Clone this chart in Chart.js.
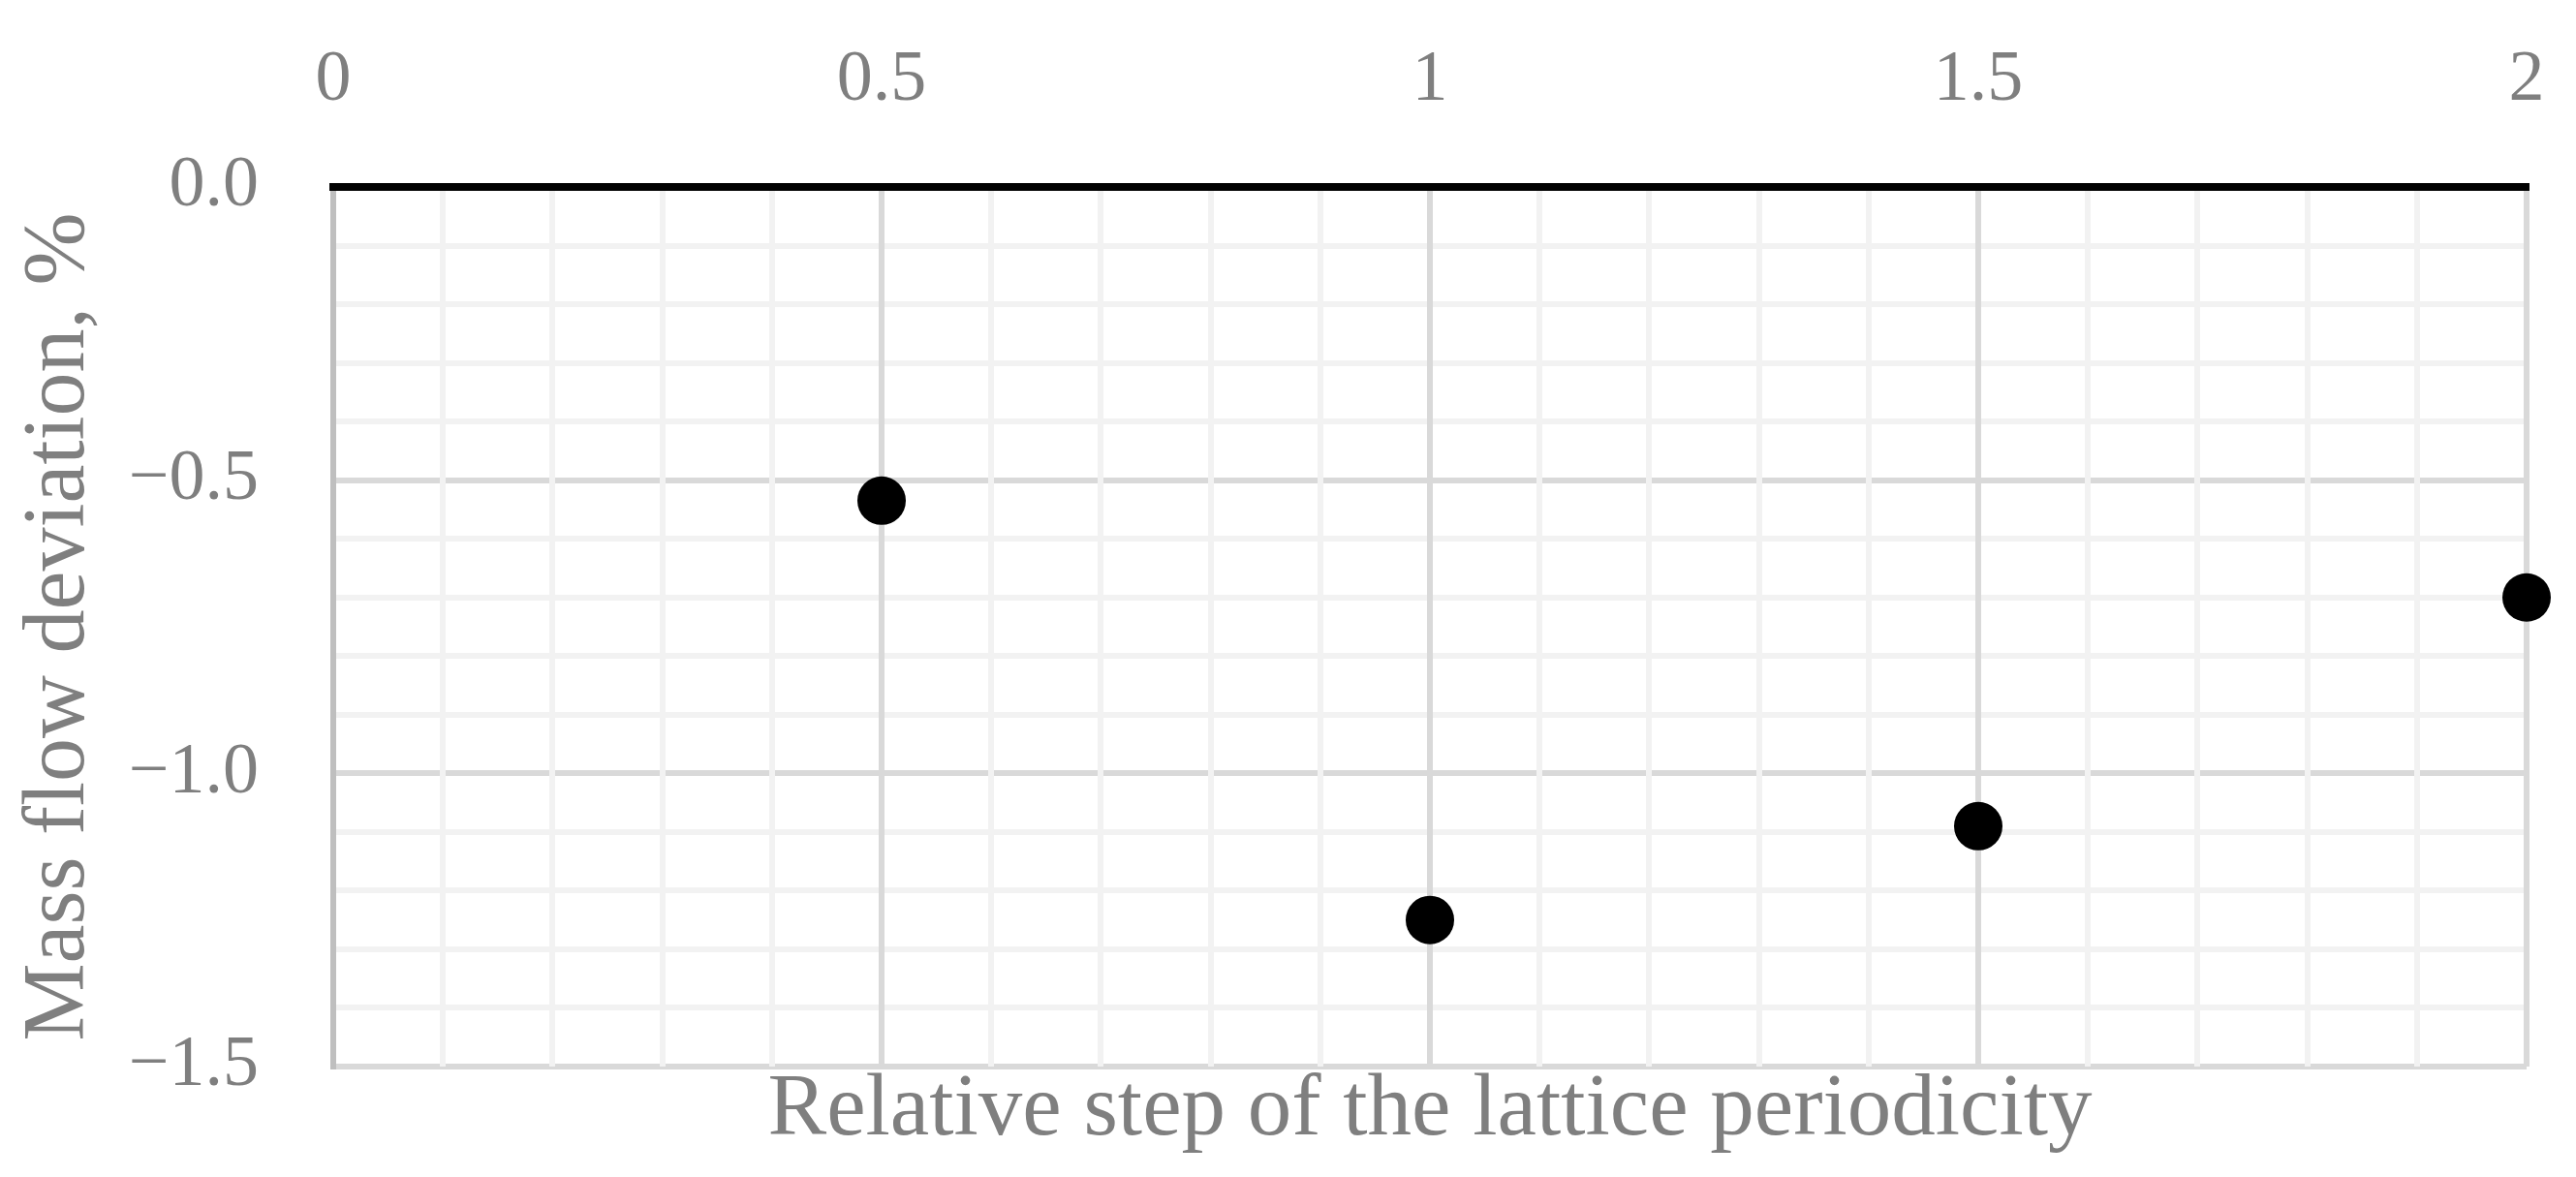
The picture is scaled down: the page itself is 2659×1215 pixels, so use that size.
<!DOCTYPE html>
<html>
<head>
<meta charset="utf-8">
<script src="https://cdn.jsdelivr.net/npm/chart.js@4.4.1/dist/chart.umd.min.js"></script>
<style>
  html, body { margin: 0; padding: 0; background: #ffffff; }
  #wrap { width: 2659px; height: 1215px; }
</style>
</head>
<body>
<div id="wrap"><canvas id="c" width="2659" height="1215"></canvas></div>
<script>
// Data
const xValues = [0.5, 1.0, 1.5, 2.0];
const yValues = [-0.535, -1.25, -1.09, -0.70];
const xTickLabels = ['0', '0.5', '1', '1.5', '2'];
const yTickLabels = ['0.0', '\u22120.5', '\u22121.0', '\u22121.5'];
const xTitle = 'Relative step of the lattice periodicity';
const yTitle = 'Mass flow deviation, %';

const FONT = "'Liberation Serif', 'Times New Roman', serif";
const GRAY = '#7f7f7f';
const MAJOR = '#d9d9d9';
const MINOR = '#f2f2f2';

const isMajor = v => Math.abs(v * 2 - Math.round(v * 2)) < 1e-6;
const isZero = v => Math.abs(v) < 1e-6;

const points = xValues.map((x, i) => ({ x: x, y: yValues[i] }));

new Chart(document.getElementById('c'), {
  type: 'scatter',
  data: {
    datasets: [{
      data: points,
      pointRadius: 25,
      pointHoverRadius: 25,
      pointBackgroundColor: '#000000',
      pointBorderWidth: 0,
      borderColor: '#000000',
      showLine: false,
      clip: false
    }]
  },
  options: {
    responsive: false,
    devicePixelRatio: 1,
    animation: false,
    events: [],
    layout: { padding: { left: 0, right: 51, top: 0, bottom: 0 } },
    plugins: { legend: { display: false }, tooltip: { enabled: false } },
    scales: {
      y: {
        type: 'linear',
        position: 'left',
        min: -1.5,
        max: 0,
        afterFit: s => { s.width = 344; s.paddingTop = 0; s.paddingBottom = 0; },
        ticks: {
          stepSize: 0.1,
          autoSkip: false,
          padding: 77,
          color: GRAY,
          font: { family: FONT, size: 74 },
          callback: v => {
            if (!isMajor(v)) return '';
            const idx = Math.round(-v * 2);
            return yTickLabels[idx];
          }
        },
        grid: {
          drawTicks: false,
          lineWidth: 6,
          color: ctx => {
            const v = ctx.tick ? ctx.tick.value : 0;
            if (isZero(v)) return 'rgba(0,0,0,0)';
            return isMajor(v) ? MAJOR : MINOR;
          }
        },
        border: { display: true, color: '#bfbfbf', width: 6 },
        title: {
          display: true,
          text: yTitle,
          color: GRAY,
          font: { family: FONT, size: 90 },
          padding: { top: 8, bottom: 0 }
        }
      },
      x: {
        type: 'linear',
        position: 'top',
        min: 0,
        max: 2,
        afterFit: s => { s.height = 193; s.paddingLeft = 0; s.paddingRight = 0; },
        ticks: {
          stepSize: 0.1,
          autoSkip: false,
          maxRotation: 0,
          padding: 65,
          color: GRAY,
          font: { family: FONT, size: 74 },
          callback: v => {
            if (!isMajor(v)) return '';
            return xTickLabels[Math.round(v * 2)];
          }
        },
        grid: {
          drawTicks: false,
          lineWidth: 6,
          color: ctx => {
            const v = ctx.tick ? ctx.tick.value : 0;
            if (isZero(v)) return 'rgba(0,0,0,0)';
            return isMajor(v) ? MAJOR : MINOR;
          }
        },
        border: { display: true, color: '#000000', width: 8 }
      },
      x2: {
        type: 'linear',
        position: 'bottom',
        min: 0,
        max: 2,
        afterFit: s => { s.height = 114; s.paddingLeft = 0; s.paddingRight = 0; },
        ticks: { display: false },
        grid: { display: false, drawTicks: false },
        border: { display: false },
        title: {
          display: true,
          text: xTitle,
          color: GRAY,
          font: { family: FONT, size: 91 },
          padding: { top: 0, bottom: 13 }
        }
      }
    }
  }
});
</script>
</body>
</html>
